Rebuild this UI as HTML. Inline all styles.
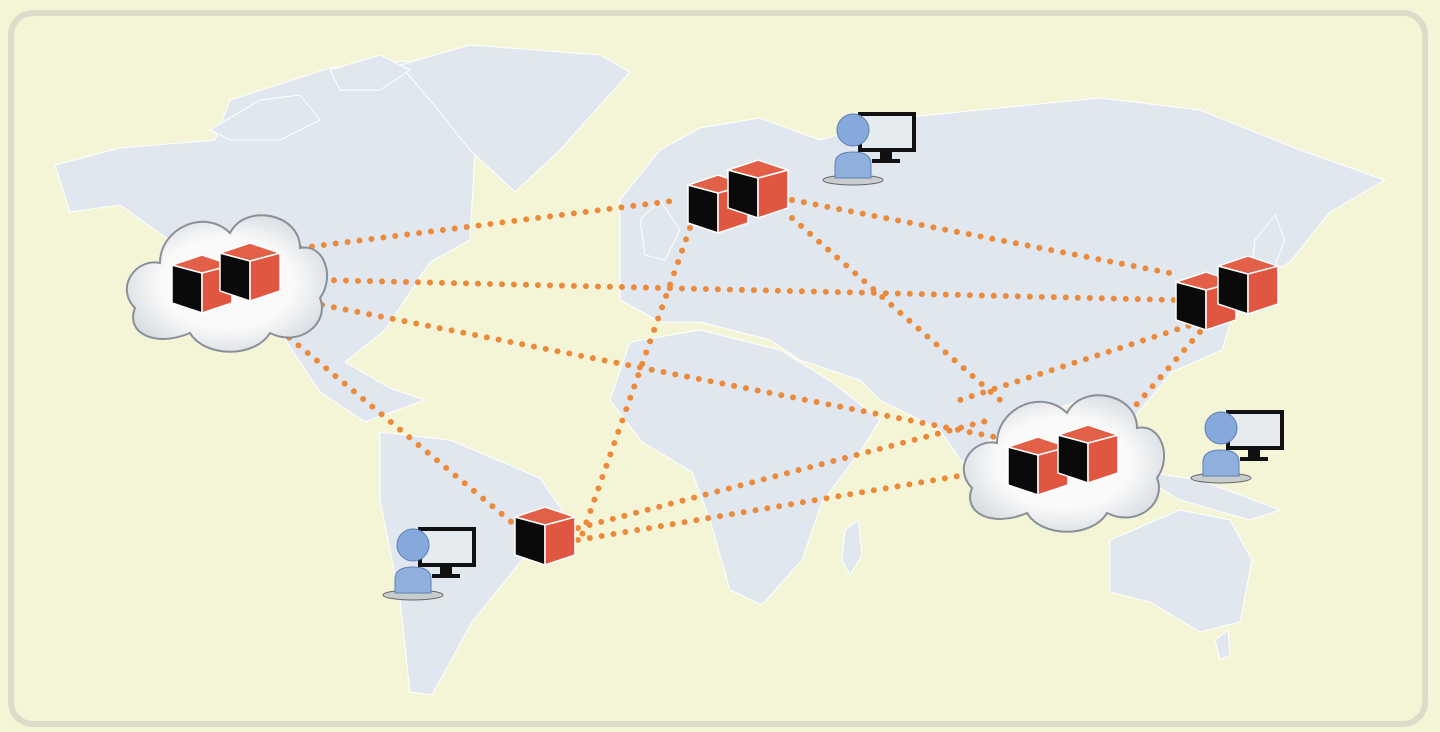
<!DOCTYPE html>
<html><head><style>
html,body{margin:0;padding:0;background:#f4f4d6;}
svg{display:block}
</style></head><body>
<svg width="1440" height="732" viewBox="0 0 1440 732" xmlns="http://www.w3.org/2000/svg">
<defs>
<g id="cube">
<polygon points="0,10 30,18 30,58 0,48" fill="#0a0a0a" stroke="#fff" stroke-width="1.5"/>
<polygon points="30,18 60,10 60,48 30,58" fill="#e05641" stroke="#fff" stroke-width="1.5"/>
<polygon points="0,10 30,0 60,10 30,18" fill="#e36048" stroke="#fff" stroke-width="1.5"/>
</g>
<radialGradient id="cl" cx="50%" cy="50%" r="55%"><stop offset="0.6" stop-color="#fafafa"/><stop offset="1" stop-color="#d8dde2"/></radialGradient>
<g id="cloud">
<path d="M-90,30 C-110,10 -90,-20 -65,-15 C-65,-50 -20,-70 5,-45 C20,-75 75,-65 75,-30 C100,-35 110,0 95,20 C105,45 75,70 45,55 C30,80 -20,80 -35,55 C-70,70 -100,55 -90,30 Z" fill="url(#cl)" stroke="#8a9099" stroke-width="2"/>
</g>
<g id="user">
<rect x="18" y="0" width="58" height="40" fill="#111"/>
<rect x="22" y="4" width="50" height="32" fill="#e6ebf0"/>
<rect x="40" y="40" width="12" height="8" fill="#111"/>
<rect x="32" y="47" width="28" height="4" fill="#111"/>
<ellipse cx="13" cy="68" rx="30" ry="5" fill="#c8cccf" stroke="#666"/>
<path d="M-5,66 L-5,52 Q-5,40 13,40 Q31,40 31,52 L31,66 Z" fill="#8fb0dd" stroke="#5b7fb5"/>
<circle cx="13" cy="18" r="16" fill="#86a9dc" stroke="#5b7fb5"/>
</g>
</defs>
<rect x="11" y="13" width="1414" height="711" rx="22" fill="#f4f5d7" stroke="#dcdcca" stroke-width="6"/>
<g fill="#e0e7ef" stroke="#ffffff" stroke-width="1">
<polygon points="55,165 120,148 215,140 230,100 330,68 420,60 445,110 475,150 470,240 430,262 385,330 345,362 390,388 425,400 365,422 320,392 280,332 258,300 200,262 120,205 70,212"/>
<polygon points="400,65 470,45 600,55 630,72 560,150 515,192 470,150 430,100"/>
<polygon points="380,432 450,440 540,478 562,510 522,560 472,622 432,695 410,692 400,600 380,500"/>
<polygon points="620,200 660,150 700,128 760,118 820,140 900,118 1000,108 1100,98 1200,110 1300,150 1385,180 1330,212 1290,262 1240,292 1222,350 1172,372 1132,420 1080,400 1000,432 962,462 940,430 880,400 860,380 800,360 770,340 700,322 660,322 620,300"/>
<polygon points="630,342 700,330 780,350 832,382 880,420 860,452 822,502 802,560 762,605 730,590 710,520 692,472 642,442 610,400"/>
<polygon points="1110,540 1180,510 1230,520 1252,560 1240,622 1200,632 1150,602 1110,592"/>
<polygon points="1130,470 1200,480 1280,510 1250,520 1180,500"/>
<polygon points="640,220 660,200 680,230 665,260 645,255"/>
<polygon points="845,530 858,520 862,555 850,575 842,560"/>
<polygon points="1255,240 1275,215 1285,240 1265,290 1250,285"/>
<polygon points="1215,640 1228,630 1230,655 1220,660"/>
<polygon points="210,130 260,100 300,95 320,120 280,140 230,140"/>
<polygon points="330,70 380,55 410,70 380,90 340,90"/>
</g>
<g stroke="#ec8a3c" stroke-width="6" stroke-linecap="round" stroke-dasharray="0 12" fill="none">
<line x1="300" y1="248" x2="680" y2="200"/>
<line x1="322" y1="280" x2="1175" y2="300"/>
<line x1="322" y1="305" x2="1010" y2="440"/>
<line x1="280" y1="330" x2="515" y2="525"/>
<line x1="792" y1="200" x2="1180" y2="275"/>
<line x1="792" y1="218" x2="1000" y2="400"/>
<line x1="690" y1="228" x2="582" y2="535"/>
<line x1="578" y1="528" x2="990" y2="420"/>
<line x1="578" y1="540" x2="965" y2="475"/>
<line x1="1200" y1="322" x2="960" y2="400"/>
<line x1="1200" y1="332" x2="1130" y2="412"/>
</g>
<use href="#cloud" x="225" y="278"/>
<use href="#cloud" x="1062" y="458"/>
<use href="#cube" x="172" y="255"/>
<use href="#cube" x="220" y="243"/>
<use href="#cube" x="688" y="175"/>
<use href="#cube" x="728" y="160"/>
<use href="#cube" x="1176" y="272"/>
<use href="#cube" x="1218" y="256"/>
<use href="#cube" x="1008" y="437"/>
<use href="#cube" x="1058" y="425"/>
<use href="#cube" x="515" y="507"/>
<use href="#user" x="840" y="112"/>
<use href="#user" x="1208" y="410"/>
<use href="#user" x="400" y="527"/>
</svg>
</body></html>
